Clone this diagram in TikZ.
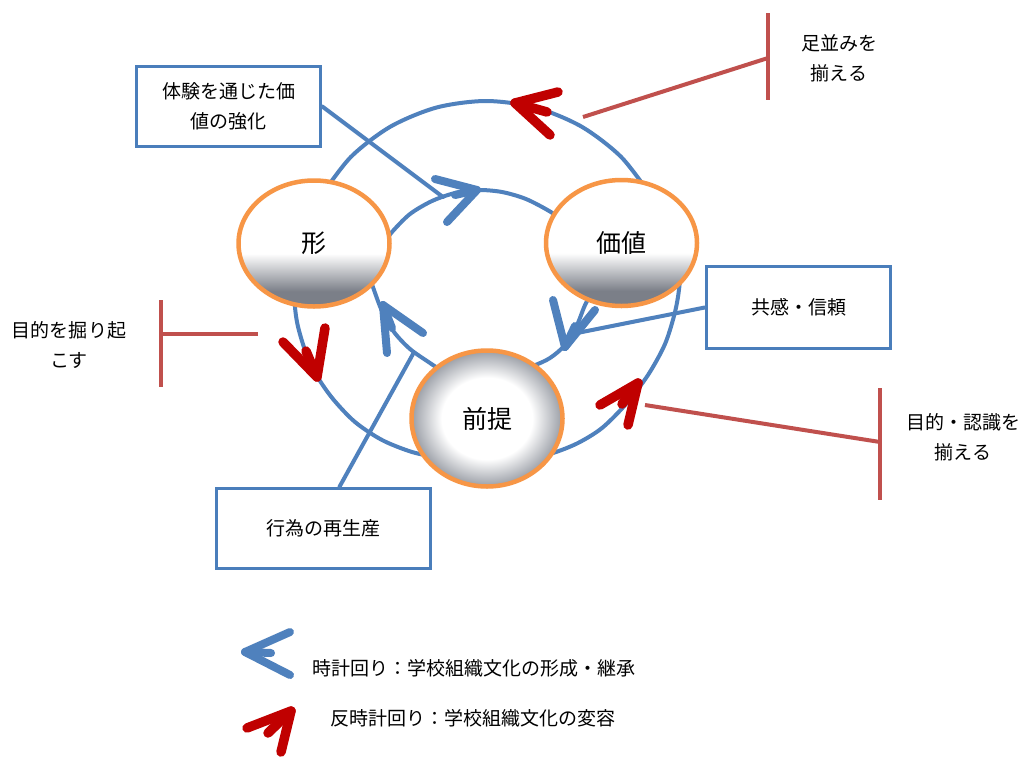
\documentclass[tikz,border=0pt]{standalone}
\usepackage{fontspec}
\setmainfont{Noto Sans CJK JP}
\usetikzlibrary{shapes.geometric,calc}
\definecolor{obl}{HTML}{4F81BD}
\definecolor{boxbl}{HTML}{4A7EBB}
\definecolor{oor}{HTML}{F79646}
\definecolor{dred}{HTML}{C00000}
\definecolor{tred}{HTML}{C0504D}
\definecolor{gA}{HTML}{7B7F88}
\definecolor{gB}{HTML}{9A9EA6}
\pgfdeclareverticalshading{btn}{100bp}{color(0bp)=(gA); color(25bp)=(gA); color(31bp)=(gA); color(46bp)=(white); color(100bp)=(white)}
\pgfdeclareradialshading{ballz}{\pgfpoint{0bp}{0bp}}{color(0bp)=(white); color(15bp)=(white); color(25bp)=(gB); color(50bp)=(gB)}
\pgfdeclarelayer{bg}
\pgfsetlayers{bg,main}
\tikzset{
  arcln/.style={draw=obl, line width=4pt, line cap=round},
  bhead/.style={draw=obl, line width=8pt, line cap=round, line join=round},
  rhead/.style={draw=dred, line width=9.5pt, line cap=round, line join=round},
  tbar/.style={draw=tred, line width=4pt},
  txt/.style={font=\fontsize{19}{30}\selectfont, align=center, inner sep=0pt, text=black},
  bx/.style={draw=boxbl, line width=3.5pt, fill=white, txt},
  btnnode/.style={ellipse, draw=oor, line width=4.5pt, shade, shading=btn, inner sep=0pt, font=\fontsize{25}{30}\selectfont},
  ballnode/.style={ellipse, draw=oor, line width=4.5pt, shade, shading=ballz, inner sep=0pt, font=\fontsize{25}{30}\selectfont},
}
\begin{document}
\begin{tikzpicture}[x=1pt,y=-1pt]
\useasboundingbox (0,0) rectangle (1019,758);

% main nodes
\node[btnnode, minimum width=151pt, minimum height=126pt] (kata) at (314,243.5) {形};
\node[btnnode, minimum width=151pt, minimum height=126pt] (kachi) at (621.5,243) {価値};
\node[ballnode, minimum width=151pt, minimum height=136pt] (zentei) at (487,418.5) {前提};

% boxes
\node[bx, minimum width=184pt, minimum height=80pt] (b1) at (228.5,106.5) {体験を通じた価\\値の強化};
\node[bx, minimum width=184pt, minimum height=82pt] (b2) at (798.5,307.5) {共感・信頼};
\node[bx, minimum width=214pt, minimum height=80pt] (b3) at (323.5,528.5) {行為の再生産};

% labels
\node[txt] (l1) at (839,58) {足並みを\\揃える};
\node[txt] (l2) at (69,345) {目的を掘り起\\こす};
\node[txt] (l3) at (963,437.5) {目的・認識を\\揃える};

% legend
\node[txt, anchor=west] (lg1) at (312,668) {時計回り：学校組織文化の形成・継承};
\node[txt, anchor=west] (lg2) at (330,718) {反時計回り：学校組織文化の変容};

% arc end coordinates (inside nodes)
\coordinate (oTa) at ($(kachi.center)+(30,-46.5)$);
\coordinate (oTb) at ($(kata.center)+(6.6,-47)$);
\coordinate (oLa) at ($(kata.center)+(-16,15.5)$);
\coordinate (oLb) at ($(zentei.center)+(-47,39.5)$);
\coordinate (oRa) at ($(kachi.center)+(59.5,7)$);
\coordinate (oRb) at ($(zentei.center)+(43,39.5)$);
\coordinate (iTa) at ($(kata.center)+(66,4.5)$);
\coordinate (iTb) at ($(kachi.center)+(-53.5,-19)$);
\coordinate (iLa) at ($(zentei.center)+(-39,-43.5)$);
\coordinate (iLb) at ($(kata.center)+(54,28.5)$);
\coordinate (iRa) at ($(kachi.center)+(-23.5,42)$);
\coordinate (iRb) at ($(zentei.center)+(28,-46.5)$);

\begin{pgfonlayer}{bg}
\fill[white] (0,0) rectangle (1019,758);
% outer arcs
\draw[arcln] plot[smooth] coordinates {(oTa) (621.1,156.9) (581.5,126.6) (535.4,107.5) (486,101) (436.6,107.5) (390.5,126.6) (350.9,156.9) (oTb)};
\draw[arcln] plot[smooth] coordinates {(oLa) (294.5,295) (297,322) (305,350) (317,376) (333,399) (355,422) (382,440) (412,452) (oLb)};
\draw[arcln] plot[smooth] coordinates {(oRa) (679.5,285) (675,312) (665,344) (648,375) (626,404) (602,428) (578,443) (553,453) (oRb)};
% inner arcs
\draw[arcln] plot[smooth] coordinates {(iTa) (392,232) (410,214) (432,201) (455,193) (478,190) (502,192) (526,199) (550,211.5) (iTb)};
\draw[arcln] plot[smooth] coordinates {(iLa) (430,363) (410,349) (394,332) (382,311) (374,290) (iLb)};
\draw[arcln] plot[smooth] coordinates {(iRa) (586,303) (577,325) (565,345) (550,358) (533,366) (iRb)};
\end{pgfonlayer}

% box connectors
\coordinate (e1) at (443,197);
\coordinate (e2) at (572,334);
\coordinate (e3) at (413,354);
\draw[arcln] (b1.east) -- (e1);
\draw[arcln] (b2.west) -- (e2);
\draw[arcln] ($(b3.north)+(16,0)$) -- (e3);

% blue arrowheads (clockwise)
\draw[bhead] (435,179) -- (477,190) -- (447,222);
\draw[bhead] (477,190) -- (455,195);
\draw[bhead] (553,300) -- (565,347) -- (595,310);
\draw[bhead] (565,347) -- (575,326);
\draw[bhead] (387,353) -- (383,305) -- (423,333);
\draw[bhead] (383,305) -- (392,328);

% red arrowheads (counter-clockwise)
\draw[rhead] (558,92) -- (515,103) -- (550,135);
\draw[rhead] (515,103) -- (547,112);
\draw[rhead] (283,342) -- (317,377) -- (325,328);
\draw[rhead] (317,377) -- (306,351);
\draw[rhead] (600,405) -- (638,383) -- (628,425);
\draw[rhead] (638,383) -- (622,404);

% inhibitor bars
\coordinate (t1a) at (583,117); \coordinate (t1b) at (768,58);
\coordinate (t1u) at (768,13);  \coordinate (t1d) at (768,100);
\draw[tbar] (t1a) -- (t1b);
\draw[tbar] (t1u) -- (t1d);
\coordinate (t2a) at (258,334); \coordinate (t2b) at (161,334);
\coordinate (t2u) at (161,300); \coordinate (t2d) at (161,387);
\draw[tbar] (t2a) -- (t2b);
\draw[tbar] (t2u) -- (t2d);
\coordinate (t3a) at (645,405); \coordinate (t3b) at (880,442);
\coordinate (t3u) at (880,388); \coordinate (t3d) at (880,500);
\draw[tbar] (t3a) -- (t3b);
\draw[tbar] (t3u) -- (t3d);

% legend arrows
\draw[bhead] (290,632) -- (245,652) -- (290,675);
\draw[bhead] (245,652) -- (271,653);
\draw[rhead] (247,728) -- (291,711) -- (281,752);
\draw[rhead] (291,711) -- (268,733);
\end{tikzpicture}
\end{document}
